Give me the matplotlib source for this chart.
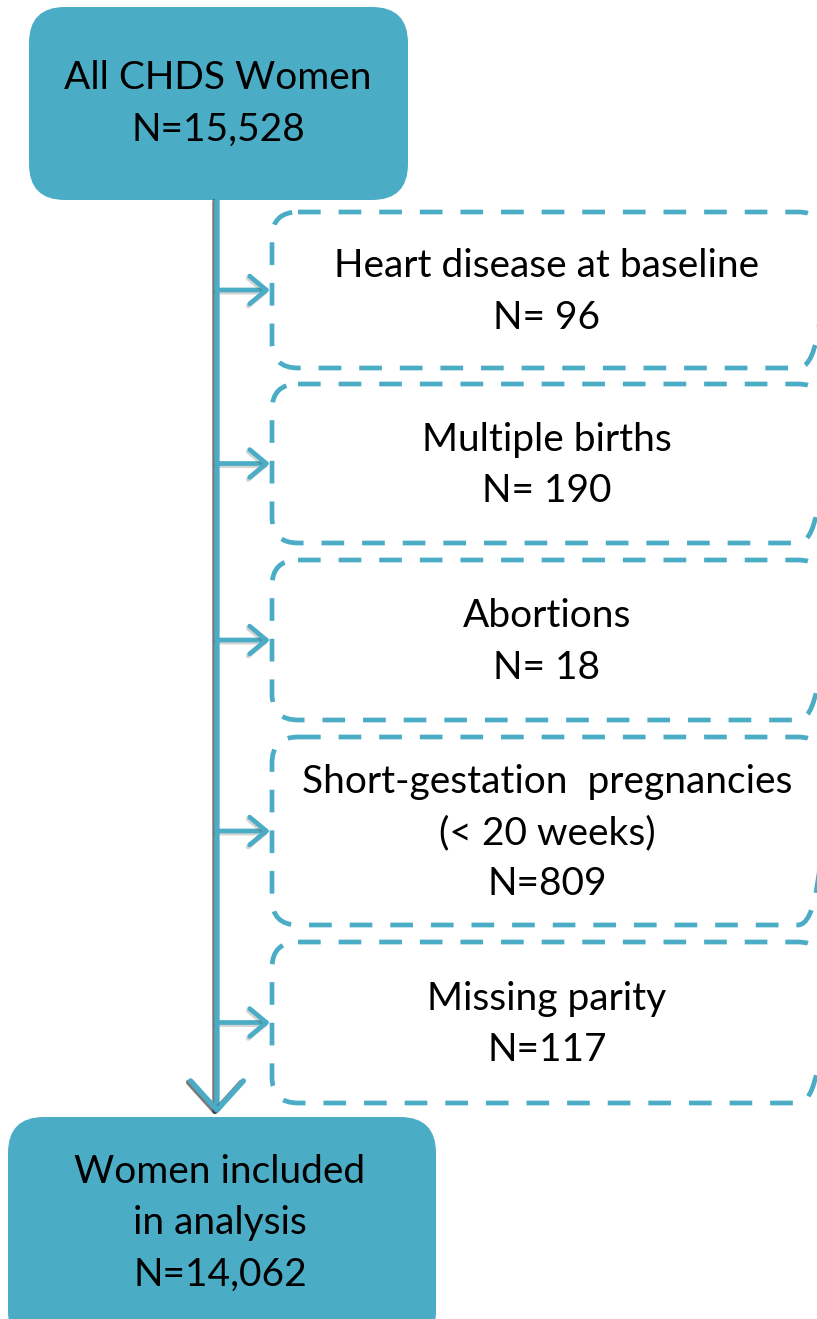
import matplotlib.pyplot as plt
from matplotlib.patches import FancyBboxPatch, FancyArrowPatch
import matplotlib.patheffects as pe

# flow chart content
top_label = ["All CHDS Women", "N=15,528"]
bottom_label = ["Women included", "in analysis", "N=14,062"]
excl_labels = ["Heart disease at baseline", "Multiple births", "Abortions",
               "Short-gestation  pregnancies\n(< 20 weeks)", "Missing parity"]
excl_counts = ["N= 96", "N= 190", "N= 18", "N=809", "N=117"]

teal = "#4BACC6"
plt.rcParams['font.family'] = ['Lato', 'DejaVu Sans']

fig = plt.figure(figsize=(8.17, 13.19), dpi=100)
ax = fig.add_axes([0, 0, 1, 1])
ax.set_xlim(0, 817)
ax.set_ylim(1319, 0)
ax.axis('off')

fs = 28
ls = 1.53
shadow = [pe.SimpleLineShadow(offset=(-1, -1.5), shadow_color='#555555', alpha=0.25), pe.Normal()]

# top box
ax.add_patch(FancyBboxPatch((29, 7), 379, 193, boxstyle="round,pad=0,rounding_size=36",
                            fc=teal, ec='none'))
ax.text(218, 104, "\n".join(top_label), ha='center', va='center', fontsize=fs,
        linespacing=ls)

# bottom box
ax.add_patch(FancyBboxPatch((8, 1117), 428, 230, boxstyle="round,pad=0,rounding_size=36",
                            fc=teal, ec='none'))
ax.text(220, 1223, "\n".join(bottom_label), ha='center', va='center', fontsize=fs,
        linespacing=ls)

# exclusion boxes
tops = [212, 384, 560, 737, 942]
bottoms = [368, 543, 720, 925, 1103]
for lab, cnt, t, b in zip(excl_labels, excl_counts, tops, bottoms):
    ax.add_patch(FancyBboxPatch((272, t), 552, b - t, boxstyle="round,pad=0,rounding_size=26",
                                fc='none', ec=teal, lw=3.4, ls=(0, (4.8, 3.8))))
    ax.text(547, (t + b) / 2 + 2, lab + "\n" + cnt, ha='center', va='center', fontsize=fs,
            linespacing=ls)
    mid = (t + b) / 2
    arr = FancyArrowPatch((217, mid), (270, mid), arrowstyle='->,head_length=0.6,head_width=0.5',
                          mutation_scale=20, color=teal, lw=3.4, shrinkA=0, shrinkB=0)
    arr.set_path_effects(shadow)
    ax.add_patch(arr)

# main vertical arrow
main = FancyArrowPatch((217, 200), (217, 1114), arrowstyle='->,head_length=1.05,head_width=0.95',
                       mutation_scale=20, color=teal, lw=3.8, shrinkA=0, shrinkB=0)
main.set_path_effects([pe.SimpleLineShadow(offset=(-1.5, -1), shadow_color='#222222', alpha=0.6),
                       pe.Normal()])
ax.add_patch(main)

fig.savefig("out.png", dpi=100)
